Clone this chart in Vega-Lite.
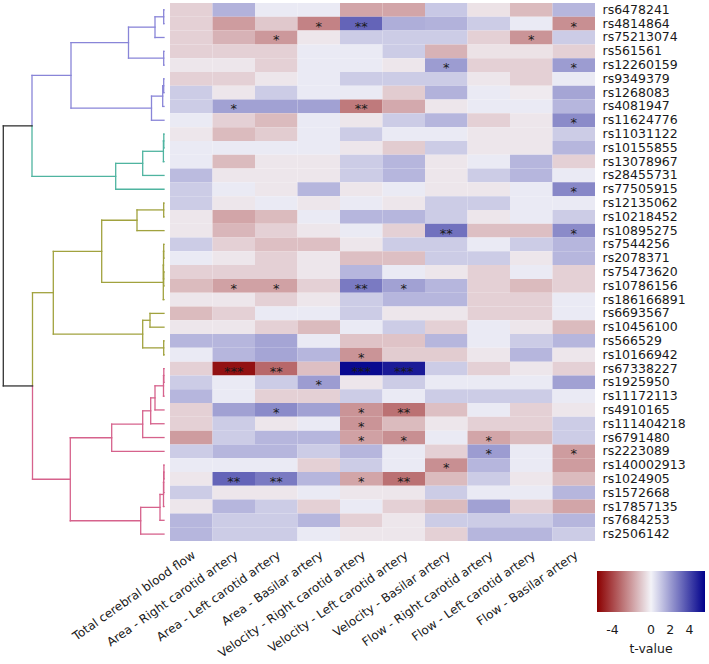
{
"$schema": "https://vega.github.io/schema/vega-lite/v6.json",
"padding": {"left": 0, "top": 3, "right": 0, "bottom": 0},
"config": {"font": "DejaVu Sans", "view": {"stroke": null}},
"bounds": "flush",
"spacing": 3,
"datasets": {
"traits": [
{"c":1,"trait":"Total cerebral blood flow"},{"c":2,"trait":"Area - Right carotid artery"},{"c":3,"trait":"Area - Left carotid artery"},{"c":4,"trait":"Area - Basilar artery"},{"c":5,"trait":"Velocity - Right carotid artery"},{"c":6,"trait":"Velocity - Left carotid artery"},{"c":7,"trait":"Velocity - Basilar artery"},{"c":8,"trait":"Flow - Right carotid artery"},{"c":9,"trait":"Flow - Left carotid artery"},{"c":10,"trait":"Flow - Basilar artery"}
],
"tree": [
{"x":0.03,"x2":0.03,"y":0.5,"y2":1.5,"k":"P"},{"x":0.03,"x2":0,"y":0.5,"y2":0.5,"k":"P"},{"x":0.03,"x2":0,"y":1.5,"y2":1.5,"k":"P"},
{"x":0.9,"x2":0.9,"y":1.0,"y2":2.5,"k":"P"},{"x":0.9,"x2":0.03,"y":1.0,"y2":1.0,"k":"P"},{"x":0.9,"x2":0,"y":2.5,"y2":2.5,"k":"P"},
{"x":0.03,"x2":0.03,"y":3.5,"y2":4.5,"k":"P"},{"x":0.03,"x2":0,"y":3.5,"y2":3.5,"k":"P"},{"x":0.03,"x2":0,"y":4.5,"y2":4.5,"k":"P"},
{"x":3.55,"x2":3.55,"y":1.75,"y2":4.0,"k":"P"},{"x":3.55,"x2":0.9,"y":1.75,"y2":1.75,"k":"P"},{"x":3.55,"x2":0.03,"y":4.0,"y2":4.0,"k":"P"},
{"x":0.03,"x2":0.03,"y":5.5,"y2":6.5,"k":"P"},{"x":0.03,"x2":0,"y":5.5,"y2":5.5,"k":"P"},{"x":0.03,"x2":0,"y":6.5,"y2":6.5,"k":"P"},
{"x":0.13,"x2":0.13,"y":6.0,"y2":7.5,"k":"P"},{"x":0.13,"x2":0.03,"y":6.0,"y2":6.0,"k":"P"},{"x":0.13,"x2":0,"y":7.5,"y2":7.5,"k":"P"},
{"x":1.25,"x2":1.25,"y":6.75,"y2":8.5,"k":"P"},{"x":1.25,"x2":0.13,"y":6.75,"y2":6.75,"k":"P"},{"x":1.25,"x2":0,"y":8.5,"y2":8.5,"k":"P"},
{"x":9.3,"x2":9.3,"y":2.875,"y2":7.625,"k":"P"},{"x":9.3,"x2":3.55,"y":2.875,"y2":2.875,"k":"P"},{"x":9.3,"x2":1.25,"y":7.625,"y2":7.625,"k":"P"},
{"x":0.02,"x2":0.02,"y":9.5,"y2":10.5,"k":"T"},{"x":0.02,"x2":0,"y":9.5,"y2":9.5,"k":"T"},{"x":0.02,"x2":0,"y":10.5,"y2":10.5,"k":"T"},
{"x":0.06,"x2":0.06,"y":10.0,"y2":11.5,"k":"T"},{"x":0.06,"x2":0.02,"y":10.0,"y2":10.0,"k":"T"},{"x":0.06,"x2":0,"y":11.5,"y2":11.5,"k":"T"},
{"x":2.13,"x2":2.13,"y":10.75,"y2":12.5,"k":"T"},{"x":2.13,"x2":0.06,"y":10.75,"y2":10.75,"k":"T"},{"x":2.13,"x2":0,"y":12.5,"y2":12.5,"k":"T"},
{"x":4.83,"x2":4.83,"y":11.625,"y2":13.5,"k":"T"},{"x":4.83,"x2":2.13,"y":11.625,"y2":11.625,"k":"T"},{"x":4.83,"x2":0,"y":13.5,"y2":13.5,"k":"T"},
{"x":13.2,"x2":13.2,"y":5.25,"y2":8.90625,"k":"P"},{"x":13.2,"x2":13.2,"y":8.90625,"y2":12.5625,"k":"T"},{"x":13.2,"x2":9.3,"y":5.25,"y2":5.25,"k":"P"},{"x":13.2,"x2":4.83,"y":12.5625,"y2":12.5625,"k":"T"},
{"x":0.03,"x2":0.03,"y":14.5,"y2":15.5,"k":"O"},{"x":0.03,"x2":0,"y":14.5,"y2":14.5,"k":"O"},{"x":0.03,"x2":0,"y":15.5,"y2":15.5,"k":"O"},
{"x":2.7,"x2":2.7,"y":15.0,"y2":16.5,"k":"O"},{"x":2.7,"x2":0.03,"y":15.0,"y2":15.0,"k":"O"},{"x":2.7,"x2":0,"y":16.5,"y2":16.5,"k":"O"},
{"x":0.03,"x2":0.03,"y":17.5,"y2":18.5,"k":"O"},{"x":0.03,"x2":0,"y":17.5,"y2":17.5,"k":"O"},{"x":0.03,"x2":0,"y":18.5,"y2":18.5,"k":"O"},
{"x":0.03,"x2":0.03,"y":19.5,"y2":20.5,"k":"O"},{"x":0.03,"x2":0,"y":19.5,"y2":19.5,"k":"O"},{"x":0.03,"x2":0,"y":20.5,"y2":20.5,"k":"O"},
{"x":0.05,"x2":0.05,"y":18.0,"y2":20.0,"k":"O"},{"x":0.05,"x2":0.03,"y":18.0,"y2":18.0,"k":"O"},{"x":0.05,"x2":0.03,"y":20.0,"y2":20.0,"k":"O"},
{"x":0.07,"x2":0.07,"y":19.0,"y2":21.5,"k":"O"},{"x":0.07,"x2":0.05,"y":19.0,"y2":19.0,"k":"O"},{"x":0.07,"x2":0,"y":21.5,"y2":21.5,"k":"O"},
{"x":6.23,"x2":6.23,"y":15.75,"y2":20.25,"k":"O"},{"x":6.23,"x2":2.7,"y":15.75,"y2":15.75,"k":"O"},{"x":6.23,"x2":0.07,"y":20.25,"y2":20.25,"k":"O"},
{"x":1.4,"x2":1.4,"y":22.5,"y2":23.5,"k":"O"},{"x":1.4,"x2":0,"y":22.5,"y2":22.5,"k":"O"},{"x":1.4,"x2":0,"y":23.5,"y2":23.5,"k":"O"},
{"x":0.03,"x2":0.03,"y":24.5,"y2":25.5,"k":"O"},{"x":0.03,"x2":0,"y":24.5,"y2":24.5,"k":"O"},{"x":0.03,"x2":0,"y":25.5,"y2":25.5,"k":"O"},
{"x":2.13,"x2":2.13,"y":23.0,"y2":25.0,"k":"O"},{"x":2.13,"x2":1.4,"y":23.0,"y2":23.0,"k":"O"},{"x":2.13,"x2":0.03,"y":25.0,"y2":25.0,"k":"O"},
{"x":11.07,"x2":11.07,"y":18.0,"y2":24.0,"k":"O"},{"x":11.07,"x2":6.23,"y":18.0,"y2":18.0,"k":"O"},{"x":11.07,"x2":2.13,"y":24.0,"y2":24.0,"k":"O"},
{"x":0.02,"x2":0.02,"y":26.5,"y2":27.5,"k":"K"},{"x":0.02,"x2":0,"y":26.5,"y2":26.5,"k":"K"},{"x":0.02,"x2":0,"y":27.5,"y2":27.5,"k":"K"},
{"x":0.05,"x2":0.05,"y":27.0,"y2":28.5,"k":"K"},{"x":0.05,"x2":0.02,"y":27.0,"y2":27.0,"k":"K"},{"x":0.05,"x2":0,"y":28.5,"y2":28.5,"k":"K"},
{"x":0.9,"x2":0.9,"y":27.75,"y2":29.5,"k":"K"},{"x":0.9,"x2":0.05,"y":27.75,"y2":27.75,"k":"K"},{"x":0.9,"x2":0,"y":29.5,"y2":29.5,"k":"K"},
{"x":1.33,"x2":1.33,"y":28.625,"y2":30.5,"k":"K"},{"x":1.33,"x2":0.9,"y":28.625,"y2":28.625,"k":"K"},{"x":1.33,"x2":0,"y":30.5,"y2":30.5,"k":"K"},
{"x":2.13,"x2":2.13,"y":29.5625,"y2":31.5,"k":"K"},{"x":2.13,"x2":1.33,"y":29.5625,"y2":29.5625,"k":"K"},{"x":2.13,"x2":0,"y":31.5,"y2":31.5,"k":"K"},
{"x":5.23,"x2":5.23,"y":30.53125,"y2":32.5,"k":"K"},{"x":5.23,"x2":2.13,"y":30.53125,"y2":30.53125,"k":"K"},{"x":5.23,"x2":0,"y":32.5,"y2":32.5,"k":"K"},
{"x":0.01,"x2":0.01,"y":33.5,"y2":34.5,"k":"K"},{"x":0.01,"x2":0,"y":33.5,"y2":33.5,"k":"K"},{"x":0.01,"x2":0,"y":34.5,"y2":34.5,"k":"K"},
{"x":0.03,"x2":0.03,"y":34.0,"y2":35.5,"k":"K"},{"x":0.03,"x2":0.01,"y":34.0,"y2":34.0,"k":"K"},{"x":0.03,"x2":0,"y":35.5,"y2":35.5,"k":"K"},
{"x":0.05,"x2":0.05,"y":34.75,"y2":36.5,"k":"K"},{"x":0.05,"x2":0.03,"y":34.75,"y2":34.75,"k":"K"},{"x":0.05,"x2":0,"y":36.5,"y2":36.5,"k":"K"},
{"x":0.4,"x2":0.4,"y":35.625,"y2":37.5,"k":"K"},{"x":0.4,"x2":0.05,"y":35.625,"y2":35.625,"k":"K"},{"x":0.4,"x2":0,"y":37.5,"y2":37.5,"k":"K"},
{"x":2.33,"x2":2.33,"y":36.5625,"y2":38.5,"k":"K"},{"x":2.33,"x2":0.4,"y":36.5625,"y2":36.5625,"k":"K"},{"x":2.33,"x2":0,"y":38.5,"y2":38.5,"k":"K"},
{"x":9.37,"x2":9.37,"y":31.515625,"y2":37.53125,"k":"K"},{"x":9.37,"x2":5.23,"y":31.515625,"y2":31.515625,"k":"K"},{"x":9.37,"x2":2.33,"y":37.53125,"y2":37.53125,"k":"K"},
{"x":13.15,"x2":13.15,"y":21.0,"y2":27.76,"k":"O"},{"x":13.15,"x2":13.15,"y":27.76,"y2":34.523,"k":"K"},{"x":13.15,"x2":11.07,"y":21.0,"y2":21.0,"k":"O"},{"x":13.15,"x2":9.37,"y":34.523,"y2":34.523,"k":"K"},
{"x":16.07,"x2":16.07,"y":8.90625,"y2":27.76,"k":"R"},{"x":16.07,"x2":13.2,"y":8.90625,"y2":8.90625,"k":"R"},{"x":16.07,"x2":13.15,"y":27.76,"y2":27.76,"k":"R"}
],
"cells": [
{"r":"rs6478241","c":1,"t":-0.8},{"r":"rs6478241","c":2,"t":1.5},{"r":"rs6478241","c":3,"t":0.2},{"r":"rs6478241","c":4,"t":0.2},{"r":"rs6478241","c":5,"t":-1.8},{"r":"rs6478241","c":6,"t":-1.8},{"r":"rs6478241","c":7,"t":1.0},{"r":"rs6478241","c":8,"t":-0.4},{"r":"rs6478241","c":9,"t":-1.3},{"r":"rs6478241","c":10,"t":1.4},
{"r":"rs4814864","c":1,"t":-0.8},{"r":"rs4814864","c":2,"t":-2.0},{"r":"rs4814864","c":3,"t":-1.0},{"r":"rs4814864","c":4,"t":-2.6,"p":"*"},{"r":"rs4814864","c":5,"t":3.3,"p":"**"},{"r":"rs4814864","c":6,"t":1.6},{"r":"rs4814864","c":7,"t":1.5},{"r":"rs4814864","c":8,"t":0.9},{"r":"rs4814864","c":9,"t":0.2},{"r":"rs4814864","c":10,"t":-2.3,"p":"*"},
{"r":"rs75213074","c":1,"t":-0.8},{"r":"rs75213074","c":2,"t":-1.5},{"r":"rs75213074","c":3,"t":-2.1,"p":"*"},{"r":"rs75213074","c":4,"t":-0.3},{"r":"rs75213074","c":5,"t":0.9},{"r":"rs75213074","c":6,"t":0.9},{"r":"rs75213074","c":7,"t":0.9},{"r":"rs75213074","c":8,"t":-0.8},{"r":"rs75213074","c":9,"t":-2.2,"p":"*"},{"r":"rs75213074","c":10,"t":0.9},
{"r":"rs561561","c":1,"t":-0.8},{"r":"rs561561","c":2,"t":-0.8},{"r":"rs561561","c":3,"t":-0.8},{"r":"rs561561","c":4,"t":0.2},{"r":"rs561561","c":5,"t":0.2},{"r":"rs561561","c":6,"t":0.9},{"r":"rs561561","c":7,"t":-1.5},{"r":"rs561561","c":8,"t":-0.4},{"r":"rs561561","c":9,"t":-0.4},{"r":"rs561561","c":10,"t":-0.8},
{"r":"rs12260159","c":1,"t":-0.3},{"r":"rs12260159","c":2,"t":-0.3},{"r":"rs12260159","c":3,"t":-0.8},{"r":"rs12260159","c":4,"t":0.2},{"r":"rs12260159","c":5,"t":0.2},{"r":"rs12260159","c":6,"t":-0.3},{"r":"rs12260159","c":7,"t":2.0,"p":"*"},{"r":"rs12260159","c":8,"t":-0.8},{"r":"rs12260159","c":9,"t":-0.8},{"r":"rs12260159","c":10,"t":2.0,"p":"*"},
{"r":"rs9349379","c":1,"t":-0.8},{"r":"rs9349379","c":2,"t":-0.8},{"r":"rs9349379","c":3,"t":-0.3},{"r":"rs9349379","c":4,"t":0.2},{"r":"rs9349379","c":5,"t":0.9},{"r":"rs9349379","c":6,"t":0.9},{"r":"rs9349379","c":7,"t":0.9},{"r":"rs9349379","c":8,"t":-0.3},{"r":"rs9349379","c":9,"t":-0.8},{"r":"rs9349379","c":10,"t":0.2},
{"r":"rs1268083","c":1,"t":0.9},{"r":"rs1268083","c":2,"t":-0.3},{"r":"rs1268083","c":3,"t":0.9},{"r":"rs1268083","c":4,"t":0.2},{"r":"rs1268083","c":5,"t":0.2},{"r":"rs1268083","c":6,"t":-0.9},{"r":"rs1268083","c":7,"t":1.5},{"r":"rs1268083","c":8,"t":0.2},{"r":"rs1268083","c":9,"t":-0.2},{"r":"rs1268083","c":10,"t":1.8},
{"r":"rs4081947","c":1,"t":0.9},{"r":"rs4081947","c":2,"t":1.9,"p":"*"},{"r":"rs4081947","c":3,"t":1.9},{"r":"rs4081947","c":4,"t":1.9},{"r":"rs4081947","c":5,"t":-2.8,"p":"**"},{"r":"rs4081947","c":6,"t":-1.7},{"r":"rs4081947","c":7,"t":-0.3},{"r":"rs4081947","c":8,"t":0.2},{"r":"rs4081947","c":9,"t":0.2},{"r":"rs4081947","c":10,"t":1.4},
{"r":"rs11624776","c":1,"t":0.2},{"r":"rs11624776","c":2,"t":-0.8},{"r":"rs11624776","c":3,"t":-1.3},{"r":"rs11624776","c":4,"t":0.2},{"r":"rs11624776","c":5,"t":-0.3},{"r":"rs11624776","c":6,"t":0.9},{"r":"rs11624776","c":7,"t":1.4},{"r":"rs11624776","c":8,"t":-0.8},{"r":"rs11624776","c":9,"t":-0.3},{"r":"rs11624776","c":10,"t":2.4,"p":"*"},
{"r":"rs11031122","c":1,"t":-0.3},{"r":"rs11031122","c":2,"t":-1.3},{"r":"rs11031122","c":3,"t":-0.9},{"r":"rs11031122","c":4,"t":0.2},{"r":"rs11031122","c":5,"t":0.9},{"r":"rs11031122","c":6,"t":0.2},{"r":"rs11031122","c":7,"t":0.2},{"r":"rs11031122","c":8,"t":-0.3},{"r":"rs11031122","c":9,"t":-0.3},{"r":"rs11031122","c":10,"t":0.9},
{"r":"rs10155855","c":1,"t":0.2},{"r":"rs10155855","c":2,"t":0.2},{"r":"rs10155855","c":3,"t":0.2},{"r":"rs10155855","c":4,"t":0.2},{"r":"rs10155855","c":5,"t":-0.3},{"r":"rs10155855","c":6,"t":-0.9},{"r":"rs10155855","c":7,"t":0.9},{"r":"rs10155855","c":8,"t":-0.3},{"r":"rs10155855","c":9,"t":-0.3},{"r":"rs10155855","c":10,"t":1.4},
{"r":"rs13078967","c":1,"t":0.2},{"r":"rs13078967","c":2,"t":-1.3},{"r":"rs13078967","c":3,"t":-0.3},{"r":"rs13078967","c":4,"t":-0.3},{"r":"rs13078967","c":5,"t":0.9},{"r":"rs13078967","c":6,"t":1.4},{"r":"rs13078967","c":7,"t":-0.3},{"r":"rs13078967","c":8,"t":0.2},{"r":"rs13078967","c":9,"t":1.4},{"r":"rs13078967","c":10,"t":-0.8},
{"r":"rs28455731","c":1,"t":1.3},{"r":"rs28455731","c":2,"t":-0.3},{"r":"rs28455731","c":3,"t":-0.3},{"r":"rs28455731","c":4,"t":-0.3},{"r":"rs28455731","c":5,"t":0.9},{"r":"rs28455731","c":6,"t":1.4},{"r":"rs28455731","c":7,"t":-0.3},{"r":"rs28455731","c":8,"t":0.9},{"r":"rs28455731","c":9,"t":1.4},{"r":"rs28455731","c":10,"t":0.2},
{"r":"rs77505915","c":1,"t":0.9},{"r":"rs77505915","c":2,"t":0.2},{"r":"rs77505915","c":3,"t":-0.3},{"r":"rs77505915","c":4,"t":1.4},{"r":"rs77505915","c":5,"t":-0.3},{"r":"rs77505915","c":6,"t":0.2},{"r":"rs77505915","c":7,"t":-0.3},{"r":"rs77505915","c":8,"t":-0.3},{"r":"rs77505915","c":9,"t":0.2},{"r":"rs77505915","c":10,"t":2.5,"p":"*"},
{"r":"rs12135062","c":1,"t":0.9},{"r":"rs12135062","c":2,"t":-0.3},{"r":"rs12135062","c":3,"t":0.2},{"r":"rs12135062","c":4,"t":-0.3},{"r":"rs12135062","c":5,"t":0.2},{"r":"rs12135062","c":6,"t":-0.3},{"r":"rs12135062","c":7,"t":0.9},{"r":"rs12135062","c":8,"t":0.9},{"r":"rs12135062","c":9,"t":0.2},{"r":"rs12135062","c":10,"t":0.2},
{"r":"rs10218452","c":1,"t":-0.3},{"r":"rs10218452","c":2,"t":-1.8},{"r":"rs10218452","c":3,"t":-1.3},{"r":"rs10218452","c":4,"t":0.2},{"r":"rs10218452","c":5,"t":1.4},{"r":"rs10218452","c":6,"t":1.4},{"r":"rs10218452","c":7,"t":0.9},{"r":"rs10218452","c":8,"t":-0.3},{"r":"rs10218452","c":9,"t":0.2},{"r":"rs10218452","c":10,"t":0.9},
{"r":"rs10895275","c":1,"t":-0.3},{"r":"rs10895275","c":2,"t":-1.4},{"r":"rs10895275","c":3,"t":-0.8},{"r":"rs10895275","c":4,"t":-0.3},{"r":"rs10895275","c":5,"t":0.2},{"r":"rs10895275","c":6,"t":-0.8},{"r":"rs10895275","c":7,"t":3.0,"p":"**"},{"r":"rs10895275","c":8,"t":-1.2},{"r":"rs10895275","c":9,"t":-1.2},{"r":"rs10895275","c":10,"t":2.4,"p":"*"},
{"r":"rs7544256","c":1,"t":0.9},{"r":"rs7544256","c":2,"t":-0.8},{"r":"rs7544256","c":3,"t":-1.2},{"r":"rs7544256","c":4,"t":-1.2},{"r":"rs7544256","c":5,"t":-0.3},{"r":"rs7544256","c":6,"t":0.9},{"r":"rs7544256","c":7,"t":0.9},{"r":"rs7544256","c":8,"t":0.2},{"r":"rs7544256","c":9,"t":0.9},{"r":"rs7544256","c":10,"t":1.4},
{"r":"rs2078371","c":1,"t":0.2},{"r":"rs2078371","c":2,"t":-0.3},{"r":"rs2078371","c":3,"t":-0.8},{"r":"rs2078371","c":4,"t":-0.3},{"r":"rs2078371","c":5,"t":-1.2},{"r":"rs2078371","c":6,"t":-1.2},{"r":"rs2078371","c":7,"t":0.9},{"r":"rs2078371","c":8,"t":0.9},{"r":"rs2078371","c":9,"t":-0.3},{"r":"rs2078371","c":10,"t":1.4},
{"r":"rs75473620","c":1,"t":-0.8},{"r":"rs75473620","c":2,"t":-0.8},{"r":"rs75473620","c":3,"t":-0.8},{"r":"rs75473620","c":4,"t":-0.3},{"r":"rs75473620","c":5,"t":1.4},{"r":"rs75473620","c":6,"t":0.2},{"r":"rs75473620","c":7,"t":-0.3},{"r":"rs75473620","c":8,"t":-0.8},{"r":"rs75473620","c":9,"t":0.2},{"r":"rs75473620","c":10,"t":-0.8},
{"r":"rs10786156","c":1,"t":-1.3},{"r":"rs10786156","c":2,"t":-1.9,"p":"*"},{"r":"rs10786156","c":3,"t":-1.9,"p":"*"},{"r":"rs10786156","c":4,"t":-0.8},{"r":"rs10786156","c":5,"t":2.8,"p":"**"},{"r":"rs10786156","c":6,"t":1.9,"p":"*"},{"r":"rs10786156","c":7,"t":1.4},{"r":"rs10786156","c":8,"t":-0.8},{"r":"rs10786156","c":9,"t":-1.3},{"r":"rs10786156","c":10,"t":-0.8},
{"r":"rs186166891","c":1,"t":-0.3},{"r":"rs186166891","c":2,"t":-0.3},{"r":"rs186166891","c":3,"t":-0.8},{"r":"rs186166891","c":4,"t":-0.3},{"r":"rs186166891","c":5,"t":0.9},{"r":"rs186166891","c":6,"t":1.4},{"r":"rs186166891","c":7,"t":1.4},{"r":"rs186166891","c":8,"t":-0.8},{"r":"rs186166891","c":9,"t":-0.8},{"r":"rs186166891","c":10,"t":0.2},
{"r":"rs6693567","c":1,"t":-1.3},{"r":"rs6693567","c":2,"t":-0.8},{"r":"rs6693567","c":3,"t":0.2},{"r":"rs6693567","c":4,"t":0.2},{"r":"rs6693567","c":5,"t":0.9},{"r":"rs6693567","c":6,"t":-0.3},{"r":"rs6693567","c":7,"t":-0.3},{"r":"rs6693567","c":8,"t":-0.8},{"r":"rs6693567","c":9,"t":-0.8},{"r":"rs6693567","c":10,"t":0.2},
{"r":"rs10456100","c":1,"t":-0.3},{"r":"rs10456100","c":2,"t":-0.3},{"r":"rs10456100","c":3,"t":-0.8},{"r":"rs10456100","c":4,"t":-1.3},{"r":"rs10456100","c":5,"t":0.2},{"r":"rs10456100","c":6,"t":0.9},{"r":"rs10456100","c":7,"t":-0.8},{"r":"rs10456100","c":8,"t":0.2},{"r":"rs10456100","c":9,"t":-0.3},{"r":"rs10456100","c":10,"t":-1.3},
{"r":"rs566529","c":1,"t":1.4},{"r":"rs566529","c":2,"t":1.4},{"r":"rs566529","c":3,"t":1.8},{"r":"rs566529","c":4,"t":0.2},{"r":"rs566529","c":5,"t":-1.1},{"r":"rs566529","c":6,"t":-1.1},{"r":"rs566529","c":7,"t":1.4},{"r":"rs566529","c":8,"t":0.2},{"r":"rs566529","c":9,"t":0.9},{"r":"rs566529","c":10,"t":1.4},
{"r":"rs10166942","c":1,"t":0.2},{"r":"rs10166942","c":2,"t":1.4},{"r":"rs10166942","c":3,"t":1.8},{"r":"rs10166942","c":4,"t":1.4},{"r":"rs10166942","c":5,"t":-2.2,"p":"*"},{"r":"rs10166942","c":6,"t":-0.9},{"r":"rs10166942","c":7,"t":-0.9},{"r":"rs10166942","c":8,"t":-0.3},{"r":"rs10166942","c":9,"t":1.4},{"r":"rs10166942","c":10,"t":-0.3},
{"r":"rs67338227","c":1,"t":-0.8},{"r":"rs67338227","c":2,"t":-5.2,"p":"***"},{"r":"rs67338227","c":3,"t":-3.2,"p":"**"},{"r":"rs67338227","c":4,"t":-1.2},{"r":"rs67338227","c":5,"t":5.4,"p":"***"},{"r":"rs67338227","c":6,"t":5.0,"p":"***"},{"r":"rs67338227","c":7,"t":0.9},{"r":"rs67338227","c":8,"t":-0.8},{"r":"rs67338227","c":9,"t":-0.3},{"r":"rs67338227","c":10,"t":-0.8},
{"r":"rs1925950","c":1,"t":0.9},{"r":"rs1925950","c":2,"t":0.2},{"r":"rs1925950","c":3,"t":0.9},{"r":"rs1925950","c":4,"t":2.0,"p":"*"},{"r":"rs1925950","c":5,"t":-0.3},{"r":"rs1925950","c":6,"t":0.9},{"r":"rs1925950","c":7,"t":0.2},{"r":"rs1925950","c":8,"t":0.2},{"r":"rs1925950","c":9,"t":0.2},{"r":"rs1925950","c":10,"t":1.9},
{"r":"rs11172113","c":1,"t":1.4},{"r":"rs11172113","c":2,"t":0.2},{"r":"rs11172113","c":3,"t":-0.8},{"r":"rs11172113","c":4,"t":-0.8},{"r":"rs11172113","c":5,"t":0.9},{"r":"rs11172113","c":6,"t":0.2},{"r":"rs11172113","c":7,"t":0.9},{"r":"rs11172113","c":8,"t":0.9},{"r":"rs11172113","c":9,"t":0.9},{"r":"rs11172113","c":10,"t":0.2},
{"r":"rs4910165","c":1,"t":-0.8},{"r":"rs4910165","c":2,"t":1.9},{"r":"rs4910165","c":3,"t":2.4,"p":"*"},{"r":"rs4910165","c":4,"t":1.9},{"r":"rs4910165","c":5,"t":-2.2,"p":"*"},{"r":"rs4910165","c":6,"t":-3.0,"p":"**"},{"r":"rs4910165","c":7,"t":-1.2},{"r":"rs4910165","c":8,"t":0.2},{"r":"rs4910165","c":9,"t":-0.8},{"r":"rs4910165","c":10,"t":-0.3},
{"r":"rs111404218","c":1,"t":-0.8},{"r":"rs111404218","c":2,"t":0.9},{"r":"rs111404218","c":3,"t":-0.3},{"r":"rs111404218","c":4,"t":0.2},{"r":"rs111404218","c":5,"t":-2.2,"p":"*"},{"r":"rs111404218","c":6,"t":-1.3},{"r":"rs111404218","c":7,"t":-0.3},{"r":"rs111404218","c":8,"t":-0.8},{"r":"rs111404218","c":9,"t":-0.8},{"r":"rs111404218","c":10,"t":0.9},
{"r":"rs6791480","c":1,"t":-2.0},{"r":"rs6791480","c":2,"t":0.9},{"r":"rs6791480","c":3,"t":1.4},{"r":"rs6791480","c":4,"t":1.4},{"r":"rs6791480","c":5,"t":-1.9,"p":"*"},{"r":"rs6791480","c":6,"t":-2.3,"p":"*"},{"r":"rs6791480","c":7,"t":0.2},{"r":"rs6791480","c":8,"t":-1.8,"p":"*"},{"r":"rs6791480","c":9,"t":-1.3},{"r":"rs6791480","c":10,"t":0.9},
{"r":"rs2223089","c":1,"t":0.9},{"r":"rs2223089","c":2,"t":1.4},{"r":"rs2223089","c":3,"t":1.4},{"r":"rs2223089","c":4,"t":0.9},{"r":"rs2223089","c":5,"t":1.4},{"r":"rs2223089","c":6,"t":0.2},{"r":"rs2223089","c":7,"t":-0.8},{"r":"rs2223089","c":8,"t":2.0,"p":"*"},{"r":"rs2223089","c":9,"t":0.2},{"r":"rs2223089","c":10,"t":-2.0,"p":"*"},
{"r":"rs140002913","c":1,"t":0.2},{"r":"rs140002913","c":2,"t":0.2},{"r":"rs140002913","c":3,"t":0.2},{"r":"rs140002913","c":4,"t":-0.8},{"r":"rs140002913","c":5,"t":0.9},{"r":"rs140002913","c":6,"t":0.2},{"r":"rs140002913","c":7,"t":-2.3,"p":"*"},{"r":"rs140002913","c":8,"t":1.4},{"r":"rs140002913","c":9,"t":0.2},{"r":"rs140002913","c":10,"t":-2.0},
{"r":"rs1024905","c":1,"t":-0.3},{"r":"rs1024905","c":2,"t":3.3,"p":"**"},{"r":"rs1024905","c":3,"t":2.8,"p":"**"},{"r":"rs1024905","c":4,"t":1.4},{"r":"rs1024905","c":5,"t":-1.8,"p":"*"},{"r":"rs1024905","c":6,"t":-3.0,"p":"**"},{"r":"rs1024905","c":7,"t":-1.3},{"r":"rs1024905","c":8,"t":0.9},{"r":"rs1024905","c":9,"t":-0.3},{"r":"rs1024905","c":10,"t":-1.3},
{"r":"rs1572668","c":1,"t":0.9},{"r":"rs1572668","c":2,"t":-0.3},{"r":"rs1572668","c":3,"t":-0.3},{"r":"rs1572668","c":4,"t":0.2},{"r":"rs1572668","c":5,"t":-0.3},{"r":"rs1572668","c":6,"t":-0.3},{"r":"rs1572668","c":7,"t":0.9},{"r":"rs1572668","c":8,"t":0.2},{"r":"rs1572668","c":9,"t":0.2},{"r":"rs1572668","c":10,"t":1.4},
{"r":"rs17857135","c":1,"t":-0.3},{"r":"rs17857135","c":2,"t":1.4},{"r":"rs17857135","c":3,"t":0.9},{"r":"rs17857135","c":4,"t":-0.8},{"r":"rs17857135","c":5,"t":0.2},{"r":"rs17857135","c":6,"t":-0.8},{"r":"rs17857135","c":7,"t":-1.3},{"r":"rs17857135","c":8,"t":1.9},{"r":"rs17857135","c":9,"t":-0.8},{"r":"rs17857135","c":10,"t":-1.8},
{"r":"rs7684253","c":1,"t":1.4},{"r":"rs7684253","c":2,"t":0.9},{"r":"rs7684253","c":3,"t":0.9},{"r":"rs7684253","c":4,"t":1.4},{"r":"rs7684253","c":5,"t":-0.8},{"r":"rs7684253","c":6,"t":-0.3},{"r":"rs7684253","c":7,"t":0.9},{"r":"rs7684253","c":8,"t":0.9},{"r":"rs7684253","c":9,"t":0.9},{"r":"rs7684253","c":10,"t":1.4},
{"r":"rs2506142","c":1,"t":1.4},{"r":"rs2506142","c":2,"t":0.9},{"r":"rs2506142","c":3,"t":0.9},{"r":"rs2506142","c":4,"t":0.2},{"r":"rs2506142","c":5,"t":-0.3},{"r":"rs2506142","c":6,"t":-0.3},{"r":"rs2506142","c":7,"t":-0.8},{"r":"rs2506142","c":8,"t":1.4},{"r":"rs2506142","c":9,"t":1.4},{"r":"rs2506142","c":10,"t":0.9}
]
},
"hconcat": [
{
"width": 167, "height": 538,
"data": {"name": "tree"},
"mark": {"type": "rule", "strokeWidth": 1.3, "strokeCap": "square"},
"encoding": {
"x": {"field": "x", "type": "quantitative", "scale": {"domain": [-0.3, 16.4], "reverse": true, "nice": false, "zero": false}, "axis": null},
"x2": {"field": "x2"},
"y": {"field": "y", "type": "quantitative", "scale": {"domain": [0, 39], "reverse": true, "nice": false, "zero": false}, "axis": null},
"y2": {"field": "y2"},
"stroke": {"field": "k", "type": "nominal", "scale": {"domain": ["P", "T", "O", "K", "R"], "range": ["#8985d8", "#4fb4a0", "#a1a23e", "#d6628c", "#333333"]}, "legend": null}
}
},
{
"width": 425, "height": 538,
"data": {"name": "cells"},
"transform": [{"lookup": "c", "from": {"data": {"name": "traits"}, "key": "c", "fields": ["trait"]}}],
"encoding": {
"x": {"field": "trait", "type": "nominal", "sort": ["Total cerebral blood flow", "Area - Right carotid artery", "Area - Left carotid artery", "Area - Basilar artery", "Velocity - Right carotid artery", "Velocity - Left carotid artery", "Velocity - Basilar artery", "Flow - Right carotid artery", "Flow - Left carotid artery", "Flow - Basilar artery"], "scale": {"paddingInner": 0, "paddingOuter": 0},
 "axis": {"title": null, "orient": "bottom", "labelAngle": -35, "labelAlign": "right", "labelBaseline": "top", "ticks": false, "domain": false, "labelPadding": 8, "labelFontSize": 12, "labelLimit": 0, "labelColor": "#1a1a1a"}},
"y": {"field": "r", "type": "nominal", "sort": ["rs6478241","rs4814864","rs75213074","rs561561","rs12260159","rs9349379","rs1268083","rs4081947","rs11624776","rs11031122","rs10155855","rs13078967","rs28455731","rs77505915","rs12135062","rs10218452","rs10895275","rs7544256","rs2078371","rs75473620","rs10786156","rs186166891","rs6693567","rs10456100","rs566529","rs10166942","rs67338227","rs1925950","rs11172113","rs4910165","rs111404218","rs6791480","rs2223089","rs140002913","rs1024905","rs1572668","rs17857135","rs7684253","rs2506142"], "scale": {"paddingInner": 0, "paddingOuter": 0},
 "axis": {"title": null, "orient": "right", "ticks": false, "domain": false, "labelPadding": 7, "labelFontSize": 12.5, "labelColor": "#1a1a1a"}}
},
"layer": [
{"mark": {"type": "rect"},
 "encoding": {"fill": {"field": "t", "type": "quantitative", "scale": {"domain": [-5.6, 0, 5.6], "range": ["#8b0000", "#f3f3f8", "#00008b"], "interpolate": "rgb"},
  "legend": {"title": "t-value", "orient": "none", "legendX": 597, "legendY": 568, "direction": "horizontal", "gradientLength": 108, "gradientThickness": 41, "values": [-4, 0, 2, 4], "labelExpr": "'' + datum.value", "titleOrient": "bottom", "titleAnchor": "middle", "titleFontSize": 12.5, "titleFontWeight": "normal", "titleColor": "#1a1a1a", "labelFontSize": 12.5, "labelColor": "#1a1a1a", "labelOffset": 12, "titlePadding": 6, "gradientStrokeWidth": 0}}}},
{"transform": [{"filter": "isValid(datum.p)"}],
 "mark": {"type": "text", "fontSize": 13, "color": "#1a1a1a", "baseline": "middle", "dy": 3},
 "encoding": {"text": {"field": "p"}}}
]
}
]
}
